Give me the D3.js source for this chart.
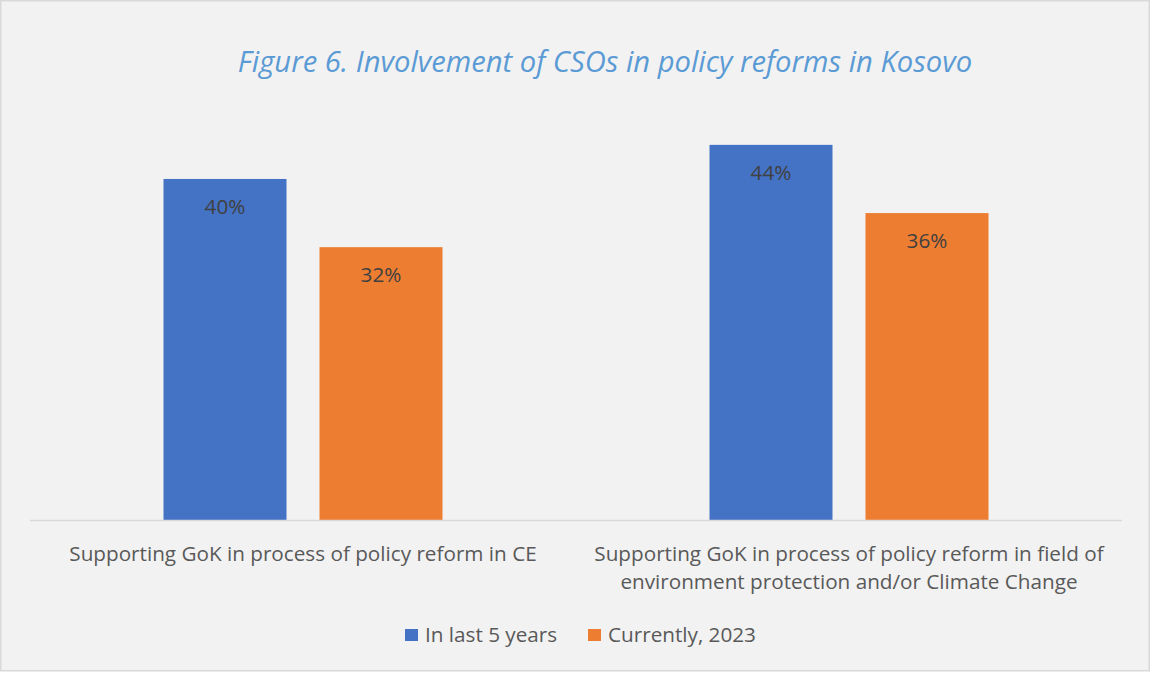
<!DOCTYPE html>
<html><head><meta charset="utf-8">
<script src="https://cdn.jsdelivr.net/npm/d3@7"></script>
<style>
html,body{margin:0;padding:0;background:#fff;}
svg{display:block;}
</style></head>
<body>
<script>
const categories = [
  ["Supporting GoK in process of policy reform in CE"],
  ["Supporting GoK in process of policy reform in field of", "environment protection and/or Climate Change"]
];
const seriesNames = ["In last 5 years", "Currently, 2023"];
const seriesValues = [
  [40, 44],
  [32, 36]
];
const colors = ["#4472c4", "#ed7d31"];
const titleText = "Figure 6. Involvement of CSOs in policy reforms in Kosovo";

const W = 1151, H = 673;
const font = "'Open Sans', sans-serif";
const fs = 20.7;
const svg = d3.select("body").append("svg").attr("width", W).attr("height", H);
svg.append("rect").attr("x", 0.75).attr("y", 0.75).attr("width", W - 2.5).attr("height", H - 3)
  .attr("fill", "#f2f2f2").attr("stroke", "#d9d9d9").attr("stroke-width", 1.5);

svg.append("text").attr("x", 605).attr("y", 72).attr("text-anchor", "middle")
  .attr("font-family", font).attr("font-style", "italic").attr("font-size", 29.2)
  .attr("fill", "#5b9bd5").text(titleText);

const left = 30, right = 1122, base = 520;
const x0 = d3.scaleBand().domain(d3.range(categories.length)).range([left, right]).paddingInner(0).paddingOuter(0);
const x1 = d3.scaleBand().domain(d3.range(seriesNames.length)).range([0, 279]).paddingInner(33/156).paddingOuter(0);
const y = d3.scaleLinear().domain([0, 50]).range([base, base - 426.3]);

const groups = svg.selectAll("g.cat").data(categories).enter().append("g")
  .attr("transform", (d, i) => `translate(${x0(i) + (x0.bandwidth() - 279) / 2},0)`);

groups.each(function(c, ci) {
  const g = d3.select(this);
  seriesNames.forEach((s, si) => {
    const v = seriesValues[si][ci];
    g.append("rect").attr("x", x1(si)).attr("width", x1.bandwidth())
      .attr("y", y(v)).attr("height", base - y(v)).attr("fill", colors[si]);
    g.append("text").attr("x", x1(si) + x1.bandwidth() / 2).attr("y", y(v) + 35)
      .attr("text-anchor", "middle").attr("font-family", font).attr("font-size", fs)
      .attr("fill", "#404040").text(v + "%");
  });
});

svg.append("line").attr("x1", left).attr("x2", right).attr("y1", base + 0.5).attr("y2", base + 0.5)
  .attr("stroke", "#d9d9d9").attr("stroke-width", 1.5);

categories.forEach((lines, ci) => {
  const cx = x0(ci) + x0.bandwidth() / 2;
  lines.forEach((ln, li) => {
    svg.append("text").attr("x", cx).attr("y", 561 + li * 28).attr("text-anchor", "middle")
      .attr("font-family", font).attr("font-size", fs).attr("fill", "#595959").text(ln);
  });
});

// legend
const legendX = [405, 588];
seriesNames.forEach((s, si) => {
  svg.append("rect").attr("x", legendX[si]).attr("y", 629).attr("width", 13).attr("height", 12).attr("fill", colors[si]);
  svg.append("text").attr("x", legendX[si] + 20).attr("y", 642).attr("font-family", font)
    .attr("font-size", fs).attr("fill", "#595959").text(s);
});
</script>
</body></html>
